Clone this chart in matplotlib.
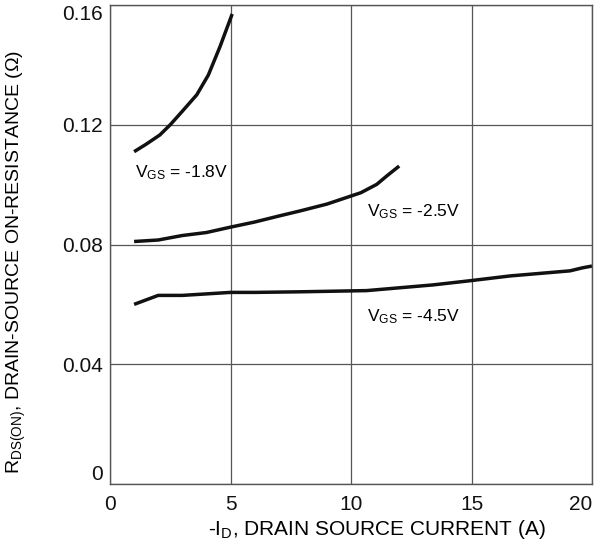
import matplotlib
matplotlib.use("Agg")
import matplotlib.pyplot as plt
import numpy as np

plt.rcParams['font.family'] = ['Liberation Sans', 'DejaVu Sans']
plt.rcParams['mathtext.fontset'] = 'custom'
plt.rcParams['mathtext.rm'] = 'Liberation Sans'
plt.rcParams['mathtext.default'] = 'regular'

# VGS = -1.8V
id_18 = [1.0, 1.5, 2.07, 2.5, 3.0, 3.6, 4.08, 4.56, 5.07]
r_18 = [0.111, 0.1135, 0.1166, 0.120, 0.1245, 0.130, 0.1366, 0.146, 0.157]
# VGS = -2.5V
id_25 = [1.0, 2.0, 3.0, 4.0, 5.0, 6.0, 7.0, 7.88, 9.0, 10.41, 11.07, 11.5, 12.0]
r_25 = [0.081, 0.0815, 0.083, 0.084, 0.0858, 0.0875, 0.0895, 0.0912, 0.0935, 0.0973, 0.1001, 0.103, 0.1062]
# VGS = -4.5V
id_45 = [1.0, 1.5, 2.0, 3.0, 4.0, 5.0, 6.0, 7.88, 10.65, 13.4, 14.94, 16.6, 19.09, 19.6, 20.0]
r_45 = [0.060, 0.0615, 0.063, 0.063, 0.0635, 0.064, 0.064, 0.0642, 0.0646, 0.0665, 0.0679, 0.0695, 0.0712, 0.0722, 0.0728]

xticks = [0, 5, 10, 15, 20]
yticks = [0, 0.04, 0.08, 0.12, 0.16]
ytick_labels = ['0', '0.04', '0.08', '0.12', '0.16']

fig = plt.figure(figsize=(6.01, 5.42), dpi=100)
ax = fig.add_axes([110 / 601, 1 - 484 / 542, 482 / 601, 479 / 542])

ax.plot(id_18, r_18, color='#111111', lw=2.5, solid_capstyle='butt')
ax.plot(id_25, r_25, color='#111111', lw=2.5, solid_capstyle='butt')
ax.plot(id_45, r_45, color='#111111', lw=2.5, solid_capstyle='butt')

ax.text(1.04, 0.104, r'V$_{GS}$ = -1.8V', fontsize=12.5, va='center', ha='left')
ax.text(10.65, 0.091, r'V$_{GS}$ = -2.5V', fontsize=12.5, va='center', ha='left')
ax.text(10.65, 0.056, r'V$_{GS}$ = -4.5V', fontsize=12.5, va='center', ha='left')

ax.set_xlim(0, 20)
ax.set_ylim(0, 0.16)
ax.set_xticks(xticks)
ax.set_yticks(yticks)
ax.set_yticklabels(ytick_labels)
ax.tick_params(length=0, labelsize=15, colors='#111111')
ax.tick_params(axis='x', pad=8)
ax.tick_params(axis='y', pad=5)
ax.get_yticklabels()[-1].set_va('top')
ax.get_yticklabels()[0].set_va('bottom')
ax.get_xticklabels()[-1].set_ha('right')
ax.grid(True, color='#555555', lw=0.9)
for s in ax.spines.values():
    s.set_color('#555555')
    s.set_linewidth(1.0)

ax.set_xlabel(r'-I$_D$, DRAIN SOURCE CURRENT (A)', fontsize=15)
ax.set_ylabel(r'R$_{DS(ON)}$, DRAIN-SOURCE ON-RESISTANCE (Ω)', fontsize=14)
ax.xaxis.set_label_coords(0.554, -0.072)
ax.yaxis.set_label_coords(-0.17, 0.463)

fig.savefig('out.png', dpi=100)
